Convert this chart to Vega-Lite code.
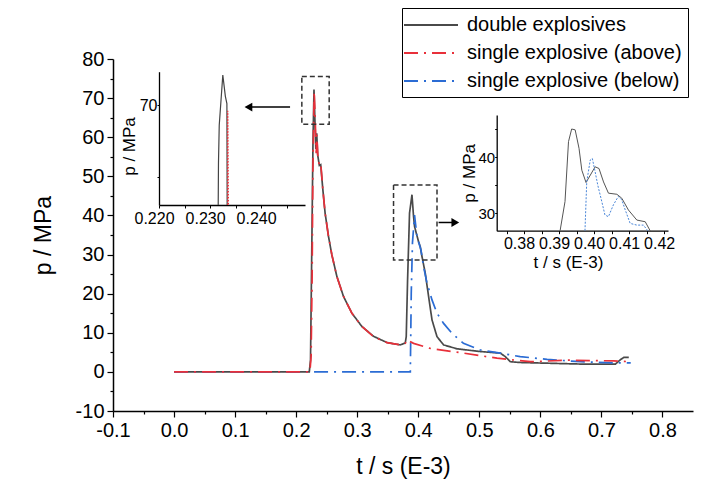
{
  "$schema": "https://vega.github.io/schema/vega-lite/v6.json",
  "description": "Pressure history: double explosives vs single explosive above / below",
  "width": 580,
  "height": 352,
  "autosize": {"type": "none"},
  "padding": {"left": 113, "top": 59, "right": 35, "bottom": 74},
  "config": {
    "font": "Liberation Sans",
    "view": {"stroke": null},
    "axis": {
      "grid": false,
      "domainColor": "black",
      "tickColor": "black",
      "labelColor": "black",
      "titleColor": "black",
      "titleFontWeight": "normal",
      "labelFlush": false,
      "labelOverlap": false,
      "labelBound": false
    }
  },
  "datasets": {
    "curves": [
      {"series": "double explosives", "t": 0, "p": 0},
      {"series": "double explosives", "t": 0.2215, "p": 0},
      {"series": "double explosives", "t": 0.2235, "p": 3},
      {"series": "double explosives", "t": 0.2255, "p": 30},
      {"series": "double explosives", "t": 0.2275, "p": 58},
      {"series": "double explosives", "t": 0.2292, "p": 72.2},
      {"series": "double explosives", "t": 0.2308, "p": 64},
      {"series": "double explosives", "t": 0.2322, "p": 57},
      {"series": "double explosives", "t": 0.2337, "p": 61},
      {"series": "double explosives", "t": 0.2352, "p": 55.5},
      {"series": "double explosives", "t": 0.238, "p": 52.8},
      {"series": "double explosives", "t": 0.2402, "p": 53},
      {"series": "double explosives", "t": 0.2436, "p": 46.8},
      {"series": "double explosives", "t": 0.2474, "p": 40.6},
      {"series": "double explosives", "t": 0.253, "p": 34.6},
      {"series": "double explosives", "t": 0.2585, "p": 29.9},
      {"series": "double explosives", "t": 0.2667, "p": 24.4},
      {"series": "double explosives", "t": 0.2775, "p": 19.3},
      {"series": "double explosives", "t": 0.2913, "p": 15},
      {"series": "double explosives", "t": 0.3077, "p": 11.6},
      {"series": "double explosives", "t": 0.3267, "p": 9.1},
      {"series": "double explosives", "t": 0.3487, "p": 7.5},
      {"series": "double explosives", "t": 0.3705, "p": 6.9},
      {"series": "double explosives", "t": 0.3787, "p": 7.4},
      {"series": "double explosives", "t": 0.3803, "p": 9},
      {"series": "double explosives", "t": 0.3825, "p": 23.5},
      {"series": "double explosives", "t": 0.3857, "p": 40.6},
      {"series": "double explosives", "t": 0.3897, "p": 45.3},
      {"series": "double explosives", "t": 0.3923, "p": 39.7},
      {"series": "double explosives", "t": 0.3939, "p": 37.2},
      {"series": "double explosives", "t": 0.3967, "p": 35.5},
      {"series": "double explosives", "t": 0.4005, "p": 33.3},
      {"series": "double explosives", "t": 0.4033, "p": 32},
      {"series": "double explosives", "t": 0.4061, "p": 29.5},
      {"series": "double explosives", "t": 0.4115, "p": 25.2},
      {"series": "double explosives", "t": 0.4169, "p": 19.3},
      {"series": "double explosives", "t": 0.4225, "p": 13.3},
      {"series": "double explosives", "t": 0.4307, "p": 9},
      {"series": "double explosives", "t": 0.4415, "p": 6.9},
      {"series": "double explosives", "t": 0.4634, "p": 5.9},
      {"series": "double explosives", "t": 0.5016, "p": 5.2},
      {"series": "double explosives", "t": 0.5344, "p": 4.8},
      {"series": "double explosives", "t": 0.5426, "p": 3.9},
      {"series": "double explosives", "t": 0.5508, "p": 2.6},
      {"series": "double explosives", "t": 0.567, "p": 2.4},
      {"series": "double explosives", "t": 0.6656, "p": 2.0},
      {"series": "double explosives", "t": 0.723, "p": 2.0},
      {"series": "double explosives", "t": 0.731, "p": 3.1},
      {"series": "double explosives", "t": 0.7366, "p": 3.7},
      {"series": "double explosives", "t": 0.7448, "p": 3.7},
      {"series": "single explosive (below)", "t": 0, "p": 0},
      {"series": "single explosive (below)", "t": 0.387, "p": 0},
      {"series": "single explosive (below)", "t": 0.3885, "p": 20},
      {"series": "single explosive (below)", "t": 0.3905, "p": 33},
      {"series": "single explosive (below)", "t": 0.3939, "p": 40.1},
      {"series": "single explosive (below)", "t": 0.3979, "p": 34.6},
      {"series": "single explosive (below)", "t": 0.4044, "p": 31.2},
      {"series": "single explosive (below)", "t": 0.4087, "p": 26.9},
      {"series": "single explosive (below)", "t": 0.4143, "p": 22.7},
      {"series": "single explosive (below)", "t": 0.4225, "p": 18.4},
      {"series": "single explosive (below)", "t": 0.4307, "p": 15},
      {"series": "single explosive (below)", "t": 0.4415, "p": 12.4},
      {"series": "single explosive (below)", "t": 0.455, "p": 9.9},
      {"series": "single explosive (below)", "t": 0.474, "p": 7.3},
      {"series": "single explosive (below)", "t": 0.5016, "p": 5.6},
      {"series": "single explosive (below)", "t": 0.5344, "p": 4.8},
      {"series": "single explosive (below)", "t": 0.567, "p": 3.9},
      {"series": "single explosive (below)", "t": 0.611, "p": 3.2},
      {"series": "single explosive (below)", "t": 0.666, "p": 2.6},
      {"series": "single explosive (below)", "t": 0.72, "p": 2.3},
      {"series": "single explosive (below)", "t": 0.748, "p": 2.3},
      {"series": "single explosive (above)", "t": 0, "p": 0},
      {"series": "single explosive (above)", "t": 0.2225, "p": 0},
      {"series": "single explosive (above)", "t": 0.2245, "p": 4},
      {"series": "single explosive (above)", "t": 0.2262, "p": 25},
      {"series": "single explosive (above)", "t": 0.2274, "p": 51.6},
      {"series": "single explosive (above)", "t": 0.2295, "p": 71.7},
      {"series": "single explosive (above)", "t": 0.2311, "p": 65.3},
      {"series": "single explosive (above)", "t": 0.2328, "p": 55.9},
      {"series": "single explosive (above)", "t": 0.2339, "p": 60.6},
      {"series": "single explosive (above)", "t": 0.2356, "p": 55},
      {"series": "single explosive (above)", "t": 0.2382, "p": 52.5},
      {"series": "single explosive (above)", "t": 0.2405, "p": 52.9},
      {"series": "single explosive (above)", "t": 0.2438, "p": 46.5},
      {"series": "single explosive (above)", "t": 0.2475, "p": 40.5},
      {"series": "single explosive (above)", "t": 0.253, "p": 34.6},
      {"series": "single explosive (above)", "t": 0.2585, "p": 29.9},
      {"series": "single explosive (above)", "t": 0.2667, "p": 24.4},
      {"series": "single explosive (above)", "t": 0.2775, "p": 19.3},
      {"series": "single explosive (above)", "t": 0.2913, "p": 15},
      {"series": "single explosive (above)", "t": 0.3077, "p": 11.6},
      {"series": "single explosive (above)", "t": 0.3267, "p": 9.0},
      {"series": "single explosive (above)", "t": 0.3487, "p": 7.5},
      {"series": "single explosive (above)", "t": 0.3705, "p": 6.9},
      {"series": "single explosive (above)", "t": 0.3787, "p": 7.3},
      {"series": "single explosive (above)", "t": 0.3814, "p": 8.2},
      {"series": "single explosive (above)", "t": 0.3923, "p": 7.3},
      {"series": "single explosive (above)", "t": 0.4197, "p": 6.0},
      {"series": "single explosive (above)", "t": 0.474, "p": 4.8},
      {"series": "single explosive (above)", "t": 0.529, "p": 3.5},
      {"series": "single explosive (above)", "t": 0.5836, "p": 2.6},
      {"series": "single explosive (above)", "t": 0.644, "p": 3.0},
      {"series": "single explosive (above)", "t": 0.72, "p": 2.8},
      {"series": "single explosive (above)", "t": 0.748, "p": 2.6}
    ],
    "inset1": [
      {"series": "double explosives", "t": 0.2316, "p": 63.1},
      {"series": "double explosives", "t": 0.23165, "p": 66},
      {"series": "double explosives", "t": 0.2318, "p": 68.6},
      {"series": "double explosives", "t": 0.2325, "p": 72.07},
      {"series": "double explosives", "t": 0.233, "p": 70.6},
      {"series": "double explosives", "t": 0.2333, "p": 70.1},
      {"series": "double explosives", "t": 0.23335, "p": 63.1},
      {"series": "single explosive (above)", "t": 0.23345, "p": 63.1},
      {"series": "single explosive (above)", "t": 0.23347, "p": 69.6},
      {"series": "single explosive (above)", "t": 0.2336, "p": 63.1}
    ],
    "inset2": [
      {"series": "double explosives", "t": 0.3903, "p": 26.9},
      {"series": "double explosives", "t": 0.3917, "p": 32.1},
      {"series": "double explosives", "t": 0.3927, "p": 42.8},
      {"series": "double explosives", "t": 0.3936, "p": 45.05},
      {"series": "double explosives", "t": 0.3946, "p": 44.9},
      {"series": "double explosives", "t": 0.3957, "p": 41.6},
      {"series": "double explosives", "t": 0.3965, "p": 37.7},
      {"series": "double explosives", "t": 0.3977, "p": 35.5},
      {"series": "double explosives", "t": 0.4003, "p": 38.3},
      {"series": "double explosives", "t": 0.4014, "p": 38.0},
      {"series": "double explosives", "t": 0.4027, "p": 35.6},
      {"series": "double explosives", "t": 0.4041, "p": 33.6},
      {"series": "double explosives", "t": 0.4065, "p": 33.4},
      {"series": "double explosives", "t": 0.4079, "p": 32.7},
      {"series": "double explosives", "t": 0.4098, "p": 30.6},
      {"series": "double explosives", "t": 0.4122, "p": 28.8},
      {"series": "double explosives", "t": 0.4146, "p": 28.5},
      {"series": "double explosives", "t": 0.416, "p": 26.9},
      {"series": "single explosive (below)", "t": 0.3974, "p": 26.9},
      {"series": "single explosive (below)", "t": 0.3979, "p": 35.6},
      {"series": "single explosive (below)", "t": 0.3989, "p": 39.5},
      {"series": "single explosive (below)", "t": 0.3995, "p": 39.8},
      {"series": "single explosive (below)", "t": 0.4003, "p": 37.4},
      {"series": "single explosive (below)", "t": 0.4011, "p": 34.9},
      {"series": "single explosive (below)", "t": 0.4022, "p": 32.1},
      {"series": "single explosive (below)", "t": 0.4031, "p": 29.7},
      {"series": "single explosive (below)", "t": 0.4041, "p": 29.4},
      {"series": "single explosive (below)", "t": 0.4055, "p": 31.5},
      {"series": "single explosive (below)", "t": 0.4069, "p": 33.0},
      {"series": "single explosive (below)", "t": 0.4079, "p": 32.4},
      {"series": "single explosive (below)", "t": 0.4089, "p": 30.6},
      {"series": "single explosive (below)", "t": 0.4103, "p": 28.2},
      {"series": "single explosive (below)", "t": 0.4122, "p": 27.9},
      {"series": "single explosive (below)", "t": 0.4141, "p": 27.9},
      {"series": "single explosive (below)", "t": 0.4153, "p": 26.9}
    ],
    "boxes": [
      {"t1": 0.2093, "t2": 0.2541, "p1": 63.3, "p2": 75.5},
      {"t1": 0.3595, "t2": 0.4307, "p1": 28.6, "p2": 47.8}
    ],
    "arrows": [
      {"tail": 0.19, "head": 0.1218, "p": 67.7, "dir": "left"},
      {"tail": 0.4333, "head": 0.4607, "p": 38.2, "dir": "right"}
    ]
  },
  "layer": [
    {
      "data": {"name": "curves"},
      "mark": {"type": "line", "strokeWidth": 1.7},
      "encoding": {
        "x": {
          "field": "t", "type": "quantitative",
          "scale": {"domain": [-0.1, 0.85], "nice": false, "zero": false},
          "axis": {
            "orient": "bottom",
            "values": [-0.1, 0, 0.1, 0.2, 0.3, 0.4, 0.5, 0.6, 0.7, 0.8],
            "labelExpr": "replace(format(datum.value, '.1f'), '\u2212', '-')",
            "title": "t / s (E-3)",
            "labelFontSize": 20,
            "titleFontSize": 23,
            "titlePadding": 15,
            "tickSize": 6,
            "tickWidth": 1.2,
            "domainWidth": 1.5,
            "labelPadding": 3
          }
        },
        "y": {
          "field": "p", "type": "quantitative",
          "scale": {"domain": [-10, 80], "nice": false, "zero": false},
          "axis": {
            "orient": "left",
            "values": [-10, 0, 10, 20, 30, 40, 50, 60, 70, 80],
            "labelExpr": "replace(format(datum.value, 'd'), '\u2212', '-')",
            "title": "p / MPa",
            "labelFontSize": 20,
            "titleFontSize": 23,
            "titlePadding": 20,
            "tickSize": 6,
            "tickWidth": 1.2,
            "domainWidth": 1.5,
            "labelPadding": 3
          }
        },
        "color": {
          "field": "series", "type": "nominal",
          "scale": {
            "domain": ["double explosives", "single explosive (above)", "single explosive (below)"],
            "range": ["#4a4a4a", "#e8303a", "#2b6cd4"]
          },
          "legend": {
            "title": null, "orient": "none", "legendX": 289, "legendY": -51,
            "strokeColor": "black", "fillColor": "white", "padding": 6,
            "labelFontSize": 20, "symbolType": "M-2.7,0H2.7", "symbolSize": 400,
            "symbolOffset": 12, "symbolStrokeWidth": 2, "labelOffset": 25, "rowPadding": 7, "labelLimit": 400
          }
        },
        "strokeDash": {
          "field": "series", "type": "nominal",
          "scale": {
            "domain": ["double explosives", "single explosive (above)", "single explosive (below)"],
            "range": [[1, 0], [14, 6, 2, 6], [14, 6, 2, 6]]
          },
          "legend": {
            "title": null, "orient": "none", "legendX": 289, "legendY": -51,
            "strokeColor": "black", "fillColor": "white", "padding": 6,
            "labelFontSize": 20, "symbolType": "M-2.7,0H2.7", "symbolSize": 400,
            "symbolOffset": 12, "symbolStrokeWidth": 2, "labelOffset": 25, "rowPadding": 7, "labelLimit": 400
          }
        },
        "order": {"value": null}
      }
    },
    {
      "data": {"name": "boxes"},
      "mark": {"type": "rect", "fillOpacity": 0, "stroke": "#333", "strokeWidth": 1.5, "strokeDash": [5, 3]},
      "encoding": {
        "x": {"field": "t1", "type": "quantitative", "scale": {"domain": [-0.1, 0.85], "nice": false, "zero": false}, "axis": null},
        "x2": {"field": "t2"},
        "y": {"field": "p1", "type": "quantitative", "scale": {"domain": [-10, 80], "nice": false, "zero": false}, "axis": null},
        "y2": {"field": "p2"}
      }
    },
    {
      "data": {"name": "arrows"},
      "mark": {"type": "rule", "color": "black", "strokeWidth": 1.5},
      "encoding": {
        "x": {"field": "tail", "type": "quantitative", "scale": {"domain": [-0.1, 0.85], "nice": false, "zero": false}, "axis": null},
        "x2": {"field": "head"},
        "y": {"field": "p", "type": "quantitative", "scale": {"domain": [-10, 80], "nice": false, "zero": false}, "axis": null}
      }
    },
    {
      "data": {"name": "arrows"},
      "mark": {"type": "point", "filled": true, "color": "black", "opacity": 1, "size": 80},
      "encoding": {
        "x": {"field": "head", "type": "quantitative", "scale": {"domain": [-0.1, 0.85], "nice": false, "zero": false}, "axis": null},
        "y": {"field": "p", "type": "quantitative", "scale": {"domain": [-10, 80], "nice": false, "zero": false}, "axis": null},
        "shape": {
          "field": "dir", "type": "nominal",
          "scale": {"domain": ["left", "right"], "range": ["triangle-left", "triangle-right"]},
          "legend": null
        }
      }
    },
    {
      "data": {"values": [{"t": 0, "p": 0}]},
      "mark": {"type": "point", "opacity": 0},
      "encoding": {
        "x": {
          "field": "t", "type": "quantitative",
          "scale": {"domain": [-0.1, 0.85], "nice": false, "zero": false},
          "axis": {"orient": "bottom", "values": [-0.05, 0.05, 0.15, 0.25, 0.35, 0.45, 0.55, 0.65, 0.75], "labels": false, "domain": false, "title": null, "tickSize": 3, "tickWidth": 1.2}
        },
        "y": {
          "field": "p", "type": "quantitative",
          "scale": {"domain": [-10, 80], "nice": false, "zero": false},
          "axis": {"orient": "left", "values": [-5, 5, 15, 25, 35, 45, 55, 65, 75], "labels": false, "domain": false, "title": null, "tickSize": 3, "tickWidth": 1.2}
        }
      }
    },
    {
      "data": {"name": "inset1"},
      "transform": [{"filter": "datum.series == 'double explosives'"}],
      "mark": {"type": "line", "color": "#444", "strokeWidth": 1.2},
      "encoding": {
        "x": {
          "field": "t", "type": "quantitative",
          "scale": {"domain": [0.22, 0.2486], "range": [46, 192], "nice": false, "zero": false},
          "axis": {
            "orient": "bottom", "offset": -206,
            "values": [0.22, 0.225, 0.23, 0.235, 0.24, 0.245],
            "labelExpr": "round(datum.value * 1000) % 10 == 0 ? format(datum.value, '.3f') : ''",
            "title": null, "tickSize": 3, "labelFontSize": 16, "labelOffset": -5, "labelPadding": 2, "domainWidth": 1.3
          }
        },
        "y": {
          "field": "p", "type": "quantitative",
          "scale": {"domain": [63.1, 72.3], "range": [146, 12.7], "nice": false, "zero": false},
          "axis": {
            "orient": "left", "offset": -46,
            "values": [65, 70],
            "labelExpr": "datum.value == 70 ? '70' : ''",
            "title": "p / MPa", "titleFontSize": 17, "titlePadding": 1, "titleY": 87,
            "tickSize": 2, "labelFontSize": 16, "labelPadding": 0, "domainWidth": 1.3
          }
        },
        "order": {"value": null}
      }
    },
    {
      "data": {"name": "inset1"},
      "transform": [{"filter": "datum.series == 'single explosive (above)'"}],
      "mark": {"type": "line", "color": "#e8303a", "strokeWidth": 1.2, "strokeDash": [1.5, 1.5]},
      "encoding": {
        "x": {"field": "t", "type": "quantitative", "scale": {"domain": [0.22, 0.2486], "range": [46, 192], "nice": false, "zero": false}, "axis": null},
        "y": {"field": "p", "type": "quantitative", "scale": {"domain": [63.1, 72.3], "range": [146, 12.7], "nice": false, "zero": false}, "axis": null},
        "order": {"value": null}
      }
    },
    {
      "data": {"name": "inset2"},
      "transform": [{"filter": "datum.series == 'double explosives'"}],
      "mark": {"type": "line", "color": "#555", "strokeWidth": 1},
      "encoding": {
        "x": {
          "field": "t", "type": "quantitative",
          "scale": {"domain": [0.3722, 0.4211], "range": [383.7, 555], "nice": false, "zero": false},
          "axis": {
            "orient": "bottom", "offset": -180.3,
            "values": [0.375, 0.38, 0.385, 0.39, 0.395, 0.4, 0.405, 0.41, 0.415, 0.42],
            "labelExpr": "round(datum.value * 1000) % 10 == 0 ? format(datum.value, '.2f') : ''",
            "title": "t / s (E-3)", "titleFontSize": 17, "titlePadding": 3, "titleX": 455,
            "tickSize": 3, "labelFontSize": 16, "labelOffset": -5, "labelPadding": 2, "domainWidth": 1.3
          }
        },
        "y": {
          "field": "p", "type": "quantitative",
          "scale": {"domain": [26.9, 47.55], "range": [171.7, 56], "nice": false, "zero": false},
          "axis": {
            "orient": "left", "offset": -383.7,
            "values": [30, 35, 40, 45],
            "labelExpr": "datum.value % 10 == 0 ? format(datum.value, 'd') : ''",
            "title": "p / MPa", "titleFontSize": 17, "titlePadding": 0,
            "tickSize": 2, "labelFontSize": 15, "labelPadding": 0, "domainWidth": 1.3
          }
        },
        "order": {"value": null}
      }
    },
    {
      "data": {"name": "inset2"},
      "transform": [{"filter": "datum.series == 'single explosive (below)'"}],
      "mark": {"type": "line", "color": "#4a86d8", "strokeWidth": 1, "strokeDash": [2, 1.5]},
      "encoding": {
        "x": {"field": "t", "type": "quantitative", "scale": {"domain": [0.3722, 0.4211], "range": [383.7, 555], "nice": false, "zero": false}, "axis": null},
        "y": {"field": "p", "type": "quantitative", "scale": {"domain": [26.9, 47.55], "range": [171.7, 56], "nice": false, "zero": false}, "axis": null},
        "order": {"value": null}
      }
    }
  ],
  "resolve": {"scale": {"x": "independent", "y": "independent"}}
}
